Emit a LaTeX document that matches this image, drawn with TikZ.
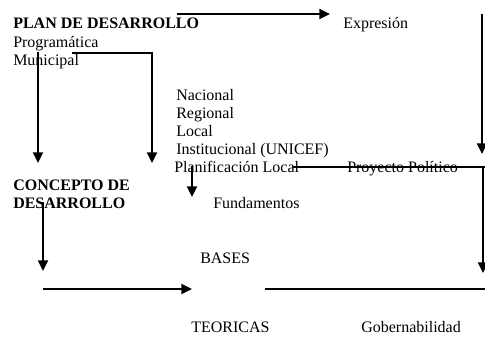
\documentclass[tikz,border=0pt]{standalone}
\usepackage{fontspec}
\setmainfont{Liberation Serif}
\usetikzlibrary{arrows.meta}
\begin{document}
\begin{tikzpicture}[x=0.75pt,y=-0.75pt,
  lbl/.style={anchor=base west,inner sep=0pt,font=\fontsize{12}{14}\selectfont},
  blbl/.style={anchor=base west,inner sep=0pt,font=\fontsize{12}{14}\selectfont\bfseries},
  conn/.style={line width=1.4pt},
  arr/.style={line width=1.4pt,-{Triangle[length=8pt,width=7.5pt]}}]
\useasboundingbox (0,0) rectangle (485,343);
% texts
\node[blbl] (plan) at (13,28) {PLAN DE DESARROLLO};
\node[lbl] (prog) at (13,47) {Programática};
\node[lbl] (mun) at (13,65) {Municipal};
\node[lbl] (exp) at (343,28) {Expresión};
\node[lbl] (nac) at (176,100) {Nacional};
\node[lbl] (reg) at (176,118) {Regional};
\node[lbl] (loc) at (176,136) {Local};
\node[lbl] (inst) at (176,154) {Institucional (UNICEF)};
\node[lbl] (planloc) at (174,172) {Planificación Local};
\node[lbl] (proy) at (347,172) {Proyecto Político};
\node[blbl] (conc1) at (13,190) {CONCEPTO DE};
\node[blbl] (conc2) at (13,208) {DESARROLLO};
\node[lbl] (fund) at (213,208) {Fundamentos};
\node[lbl] (bases) at (200,263) {BASES};
\node[lbl] (teo) at (191,332) {TEORICAS};
\node[lbl] (gob) at (361,332) {Gobernabilidad};
% connector ends
\coordinate (a1) at (177,14); \coordinate (a2) at (330,14);
\coordinate (r0) at (482,14); \coordinate (r1) at (482,154);
\coordinate (h1s) at (293,167); \coordinate (h1e) at (485,167);
\coordinate (r2) at (483,167); \coordinate (r3) at (483,273);
\coordinate (h2s) at (265,289); \coordinate (h2e) at (485,289);
\coordinate (v1s) at (38,52); \coordinate (v1e) at (38,163);
\coordinate (u1) at (72,53); \coordinate (u2) at (152,53); \coordinate (v2e) at (152,163);
\coordinate (s1) at (192,166); \coordinate (s2) at (192,197);
\coordinate (c1) at (43,202); \coordinate (c2) at (43,271);
\coordinate (b1) at (43,289); \coordinate (b2) at (192,289);
% connectors
\draw[arr] (a1) -- (a2);
\draw[arr] (r0) -- (r1);
\draw[conn] (h1s) -- (h1e);
\draw[arr] (r2) -- (r3);
\draw[conn] (h2s) -- (h2e);
\draw[arr] (v1s) -- (v1e);
\draw[arr] (u1) -- (u2) -- (v2e);
\draw[arr] (s1) -- (s2);
\draw[arr] (c1) -- (c2);
\draw[arr] (b1) -- (b2);
\end{tikzpicture}
\end{document}
